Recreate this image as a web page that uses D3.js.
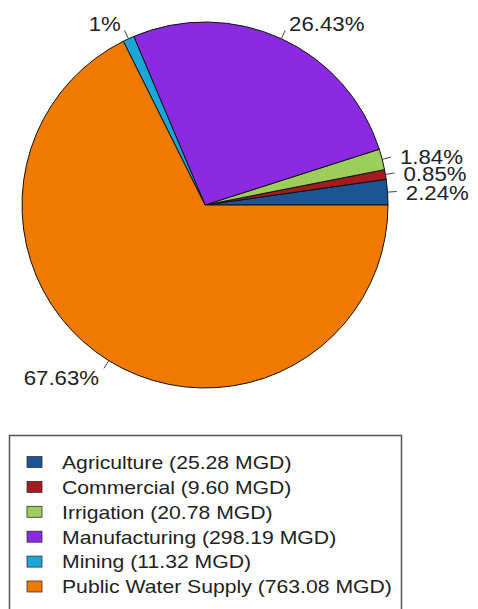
<!DOCTYPE html>
<html>
<head>
<meta charset="utf-8">
<script src="https://cdn.jsdelivr.net/npm/d3@7"></script>
<style>
  html, body { margin: 0; padding: 0; background: #fff; }
  svg { display: block; }
  text { font-family: "Liberation Sans", Arial, Helvetica, sans-serif; fill: #222; }
</style>
</head>
<body>
<svg id="chart" width="478" height="609"></svg>
<script>
// Water use by category (million gallons per day)
const categories = ["Agriculture", "Commercial", "Irrigation", "Manufacturing", "Mining", "Public Water Supply"];
const values = [25.28, 9.60, 20.78, 298.19, 11.32, 763.08];
const colors = ["#1c5596", "#a51c1e", "#9dcd5b", "#8a2be2", "#1ba6da", "#f07a00"];

const svg = d3.select("#chart");

const cx = 205, cy = 205, R = 183;
const total = d3.sum(values);
const pctLabel = v => (+((v / total) * 100).toFixed(2)) + "%";

// slices run counter-clockwise from 3 o'clock
const pie = d3.pie().sort(null)
  .startAngle(Math.PI / 2)
  .endAngle(Math.PI / 2 - 2 * Math.PI);

const data = pie(values).map((a, i) => Object.assign(a, { i }));

const arc = d3.arc().innerRadius(0).outerRadius(R);

const g = svg.append("g").attr("transform", `translate(${cx},${cy})`);

g.selectAll("path.slice")
  .data(data)
  .join("path")
  .attr("class", "slice")
  .attr("d", arc)
  .attr("fill", d => colors[d.i])
  .attr("stroke", "#111")
  .attr("stroke-width", 1)
  .attr("stroke-linejoin", "round");

// leader ticks and percentage labels
const mid = d => (d.startAngle + d.endAngle) / 2;
const px = (d, k) => Math.sin(mid(d)) * R * k;
const py = (d, k) => -Math.cos(mid(d)) * R * k;

g.selectAll("line.tick")
  .data(data)
  .join("line")
  .attr("class", "tick")
  .attr("x1", d => px(d, 1)).attr("y1", d => py(d, 1))
  .attr("x2", d => px(d, 1.05)).attr("y2", d => py(d, 1.05))
  .attr("stroke", "#444")
  .attr("stroke-width", 1);

g.selectAll("text.pct")
  .data(data)
  .join("text")
  .attr("class", "pct")
  .attr("transform", d => `translate(${px(d, 1.1)},${py(d, 1.1) + 1.5}) scale(1.06,1)`)
  .attr("text-anchor", d => px(d, 1) < 0 ? "end" : "start")
  .attr("dy", "0.36em")
  .style("font-size", "21px")
  .text(d => pctLabel(d.data));

// legend
const lg = svg.append("g");
lg.append("rect")
  .attr("x", 9.5).attr("y", 435.5)
  .attr("width", 392).attr("height", 200)
  .attr("fill", "#fff")
  .attr("stroke", "#555")
  .attr("stroke-width", 1.5);

const rowY = d3.scaleLinear().domain([0, 1]).range([462, 486.9]);

const rows = lg.selectAll("g.row")
  .data(categories)
  .join("g")
  .attr("class", "row")
  .attr("transform", (d, i) => `translate(0,${rowY(i)})`);

rows.append("rect")
  .attr("x", 27).attr("y", -5.5)
  .attr("width", 15).attr("height", 11)
  .attr("fill", (d, i) => colors[i])
  .attr("stroke", "#333")
  .attr("stroke-width", 0.8);

rows.append("text")
  .attr("transform", "translate(62,0) scale(1.115,1)")
  .attr("dy", "0.36em")
  .style("font-size", "19px")
  .text((d, i) => `${d} (${values[i].toFixed(2)} MGD)`);
</script>
</body>
</html>
